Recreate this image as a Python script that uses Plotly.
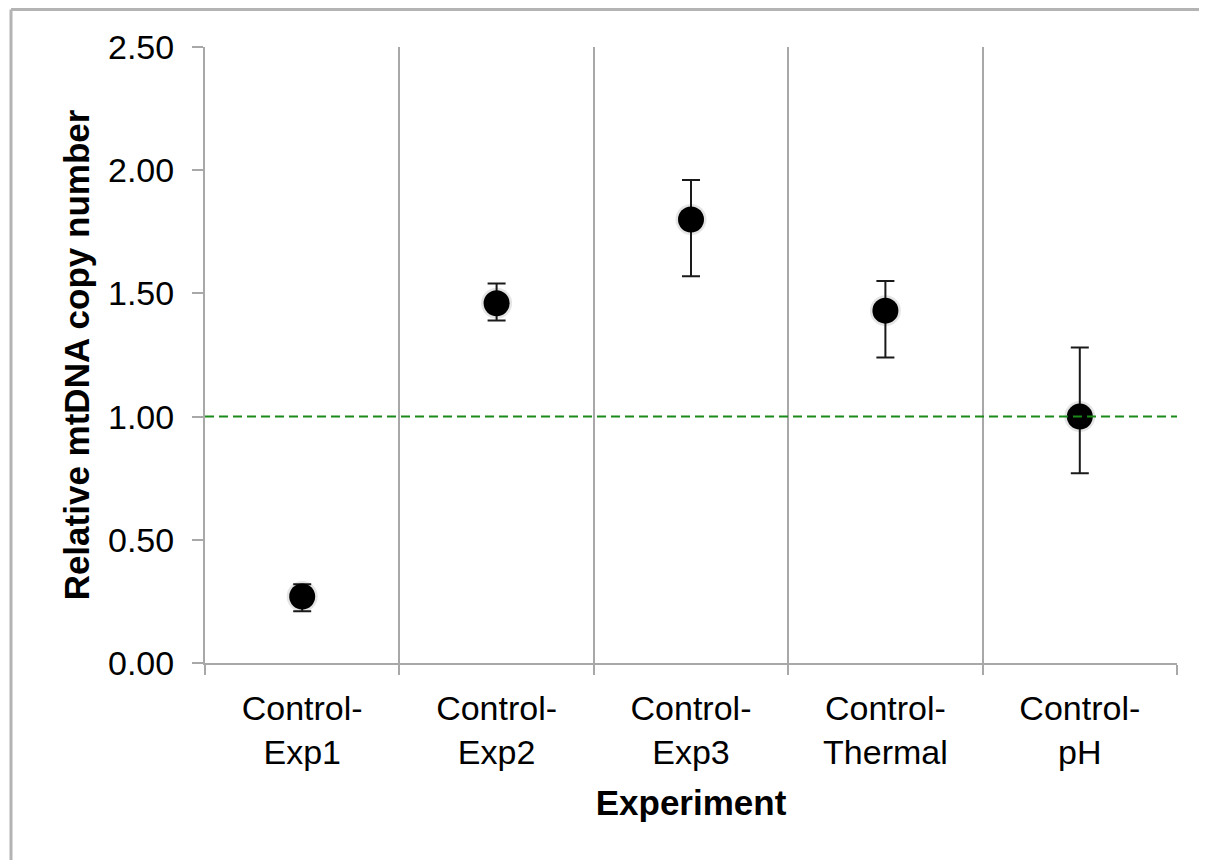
import plotly.graph_objects as go

# ---- data ----
categories = ["Control-Exp1", "Control-Exp2", "Control-Exp3", "Control-Thermal", "Control-pH"]
means = [0.27, 1.46, 1.80, 1.43, 1.00]
err_plus = [0.05, 0.08, 0.16, 0.12, 0.28]
err_minus = [0.06, 0.07, 0.23, 0.19, 0.23]
y_ticks = [0.0, 0.5, 1.0, 1.5, 2.0, 2.5]
reference_level = 1.0

labels = [c.replace("-", "-<br>") for c in categories]

FONT = "Liberation Sans, Arial, sans-serif"
GRID = "#a8a8a8"

fig = go.Figure()

# soft shadow under markers
fig.add_trace(go.Scatter(
    x=labels, y=means, mode="markers",
    marker=dict(size=31, color="rgba(0,0,0,0.10)", line=dict(width=0)),
    hoverinfo="skip", showlegend=False,
))

fig.add_trace(go.Scatter(
    x=labels, y=means, mode="markers",
    marker=dict(size=26, color="black", line=dict(width=0)),
    error_y=dict(type="data", symmetric=False, array=err_plus, arrayminus=err_minus,
                 color="#1a1a1a", thickness=2, width=9),
    showlegend=False,
))

# page has an 8px body margin; figure coordinates = page coordinates - 8
OFF = 8
W, H = 1199, 852
L, T = 205 - OFF, 47 - OFF
R = W - (1177 - OFF)
B = H - (663 - OFF)
pw, ph = W - L - R, H - T - B

def px(xpage):
    return (xpage - OFF - L) / pw

def py(ypage):
    return (H - B - (ypage - OFF)) / ph

shapes = [
    # reference line at 1.0
    dict(type="line", xref="paper", yref="y", x0=0, x1=1, y0=reference_level, y1=reference_level,
         line=dict(color="#1a8a1a", width=2, dash="9px,5px"), layer="above"),
    # outer frame (cut at right and bottom like the reference)
    dict(type="line", xref="paper", yref="paper", x0=px(11), x1=px(11), y0=py(880), y1=py(9.5),
         line=dict(color="#b4b4b4", width=3)),
    dict(type="line", xref="paper", yref="paper", x0=px(11), x1=px(1230), y0=py(9.5), y1=py(9.5),
         line=dict(color="#b4b4b4", width=3)),
]

fig.update_layout(
    width=W, height=H,
    margin=dict(l=L, r=R, t=T, b=B, pad=0),
    paper_bgcolor="white", plot_bgcolor="white",
    font=dict(family=FONT, color="black"),
    shapes=shapes,
)

fig.update_xaxes(
    type="category", range=[-0.5, 4.5],
    tickson="boundaries", ticks="outside", ticklen=10, tickwidth=2, tickcolor=GRID,
    showgrid=True, gridcolor=GRID, gridwidth=2,
    showline=True, linecolor=GRID, linewidth=2,
    tickfont=dict(size=34, family=FONT, color="black"),
    ticklabelstandoff=14,
    title=dict(text="<b>Experiment</b>", font=dict(size=35, family=FONT, color="black"), standoff=20),
    zeroline=False,
)

fig.update_yaxes(
    range=[0, 2.5], tickvals=y_ticks, tickformat=".2f",
    ticks="outside", ticklen=11, tickwidth=2, tickcolor=GRID,
    showgrid=False, zeroline=False,
    showline=True, linecolor=GRID, linewidth=2,
    tickfont=dict(size=34, family=FONT, color="black"),
    ticklabelstandoff=11,
    title=dict(text="<b>Relative mtDNA copy number</b>", font=dict(size=35, family=FONT, color="black"), standoff=8),
)

fig.write_html("out.html")
